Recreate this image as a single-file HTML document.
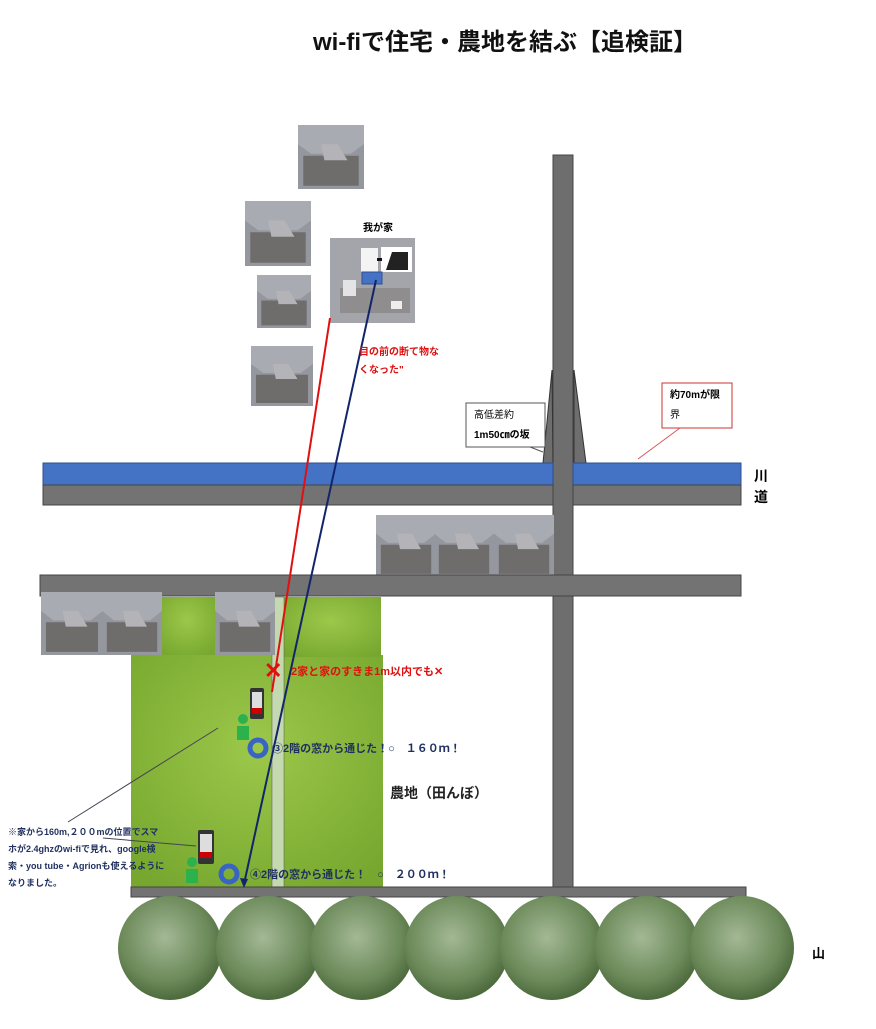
<!DOCTYPE html>
<html><head><meta charset="utf-8"><style>
body{margin:0;background:#fff}
svg text{font-family:"Liberation Sans","Noto Sans CJK JP",sans-serif}
</style></head><body>
<svg width="876" height="1024" viewBox="0 0 876 1024" xmlns="http://www.w3.org/2000/svg">
<defs>
<g id="h">
<rect x="0" y="0" width="100" height="100" fill="#95979e"/>
<polygon points="0,0 100,0 100,30 80,45 20,45 0,30" fill="#a9abb2"/>
<polygon points="8,48 92,48 92,95 8,95" fill="#6f6c6c"/>
<polygon points="35,30 60,30 75,55 40,55" fill="#b4b4b8"/>
</g>
<radialGradient id="g" cx="50%" cy="40%" r="70%"><stop offset="0" stop-color="#9cc84a"/><stop offset="1" stop-color="#77a72f"/></radialGradient>
<radialGradient id="b" cx="45%" cy="40%" r="60%"><stop offset="0" stop-color="#a3b895"/><stop offset="0.7" stop-color="#6c8a5a"/><stop offset="1" stop-color="#4c6a3c"/></radialGradient>
</defs>
<text x="313" y="50" font-size="24" font-weight="bold" fill="#111">wi-fiで住宅・農地を結ぶ【追検証】</text>

<use href="#h" transform="translate(298,125) scale(0.66,0.64)"/>
<use href="#h" transform="translate(245,201) scale(0.66,0.65)"/>
<use href="#h" transform="translate(257,275) scale(0.54,0.53)"/>
<use href="#h" transform="translate(251,346) scale(0.62,0.6)"/>
<rect x="330" y="238" width="85" height="85" fill="#a3a5ab"/>
<rect x="340" y="288" width="70" height="25" fill="#8f8d8e"/>
<rect x="343" y="280" width="13" height="16" fill="#e4e4e6"/>
<rect x="391" y="301" width="11" height="8" fill="#eee"/>
<rect x="361" y="248" width="17" height="24" fill="#f4f4f4"/>
<rect x="381" y="247" width="31" height="25" fill="#fff"/>
<path d="M386 270 L392 252 L408 252 L408 270Z" fill="#222"/>
<rect x="377" y="258" width="5" height="3" fill="#111"/>
<rect x="362" y="272" width="20" height="12" fill="#4472c4" stroke="#2f4f8f"/>
<text x="363" y="231" font-size="10" font-weight="bold">我が家</text>

<rect x="131" y="655" width="252" height="235" fill="url(#g)"/>
<rect x="158" y="597" width="58" height="58" fill="url(#g)"/>
<rect x="280" y="597" width="101" height="60" fill="url(#g)"/>
<rect x="272" y="597" width="12" height="293" fill="#c4d9b0" stroke="#555" stroke-width="0.5"/>

<rect x="553" y="155" width="20" height="735" fill="#6e6e6e" stroke="#444"/>
<polygon points="552,370 543,463 553,463" fill="#6e6e6e" stroke="#333"/>
<polygon points="574,370 586,463 574,463" fill="#6e6e6e" stroke="#333"/>
<rect x="43" y="463" width="510" height="22" fill="#4472c4" stroke="#2f4f8f"/>
<rect x="573" y="463" width="168" height="22" fill="#4472c4" stroke="#2f4f8f"/>
<rect x="43" y="485" width="510" height="20" fill="#737373" stroke="#444"/>
<rect x="573" y="485" width="168" height="20" fill="#737373" stroke="#444"/>
<text x="754" y="481" font-size="14" font-weight="bold">川</text>
<text x="754" y="502" font-size="14" font-weight="bold">道</text>
<use href="#h" transform="translate(376,515) scale(0.6,0.62)"/>
<use href="#h" transform="translate(434,515) scale(0.6,0.62)"/>
<use href="#h" transform="translate(494,515) scale(0.6,0.62)"/>
<rect x="40" y="575" width="701" height="21" fill="#737373" stroke="#444"/>
<use href="#h" transform="translate(41,592) scale(0.62,0.63)"/>
<use href="#h" transform="translate(102,592) scale(0.6,0.63)"/>
<use href="#h" transform="translate(215,592) scale(0.6,0.63)"/>
<rect x="131" y="887" width="615" height="10" fill="#737373" stroke="#444"/>

<rect x="466" y="403" width="79" height="44" fill="#fff" stroke="#555"/>
<line x1="530" y1="447" x2="543" y2="452" stroke="#555"/>
<text x="474" y="418" font-size="10">高低差約</text>
<text x="474" y="438" font-size="10" font-weight="bold">1m50㎝の坂</text>
<rect x="662" y="383" width="70" height="45" fill="#fff" stroke="#c33"/>
<line x1="680" y1="428" x2="638" y2="459" stroke="#d55"/>
<text x="670" y="398" font-size="10" font-weight="bold">約70mが限</text>
<text x="670" y="418" font-size="10">界</text>

<line x1="330" y1="318" x2="272" y2="692" stroke="#e01010" stroke-width="2"/>
<line x1="376" y1="280" x2="244" y2="884" stroke="#12256a" stroke-width="2"/>
<polygon points="244,888 240,878 248,879" fill="#12256a"/>
<text x="359" y="355" font-size="10" font-weight="bold" fill="#e01010">目の前の断て物な</text>
<text x="359" y="373" font-size="10" font-weight="bold" fill="#e01010">くなった"</text>
<text x="264" y="678" font-size="22" font-weight="bold" fill="#e01010">✕</text>
<text x="291" y="675" font-size="11" font-weight="bold" fill="#e01010">2家と家のすきま1m以内でも✕</text>

<rect x="250" y="688" width="14" height="31" rx="2" fill="#333"/><rect x="252" y="692" width="10" height="22" fill="#ddd"/><rect x="252" y="708" width="10" height="6" fill="#c00"/>
<circle cx="243" cy="719" r="5" fill="#2bb24c"/><path d="M237 726 h12 v14 h-12Z" fill="#2bb24c"/>
<circle cx="258" cy="748" r="8" fill="none" stroke="#3a64c4" stroke-width="5"/>
<text x="272" y="752" font-size="11" font-weight="bold" fill="#1f2f5f">③2階の窓から通じた！○　１６０ｍ！</text>
<text x="390" y="798" font-size="14" font-weight="bold" fill="#222">農地（田んぼ）</text>
<rect x="198" y="830" width="16" height="34" rx="2" fill="#333"/><rect x="200" y="834" width="12" height="24" fill="#ddd"/><rect x="200" y="852" width="12" height="6" fill="#c00"/>
<circle cx="192" cy="862" r="5" fill="#2bb24c"/><path d="M186 869 h12 v14 h-12Z" fill="#2bb24c"/>
<circle cx="229" cy="874" r="8" fill="none" stroke="#3a64c4" stroke-width="5"/>
<text x="250" y="878" font-size="11" font-weight="bold" fill="#1f2f5f">④2階の窓から通じた！　○　２００ｍ！</text>
<line x1="68" y1="822" x2="218" y2="728" stroke="#445"/>
<line x1="103" y1="838" x2="196" y2="846" stroke="#445"/>
<text x="8" y="835" font-size="9" font-weight="bold" fill="#1f2f5f">※家から160m,２００mの位置でスマ</text>
<text x="8" y="852" font-size="9" font-weight="bold" fill="#1f2f5f">ホが2.4ghzのwi-fiで見れ、google検</text>
<text x="8" y="869" font-size="9" font-weight="bold" fill="#1f2f5f">索・you tube・Agrionも使えるように</text>
<text x="8" y="886" font-size="9" font-weight="bold" fill="#1f2f5f">なりました。</text>

<g fill="url(#b)">
<circle cx="170" cy="948" r="52"/><circle cx="268" cy="948" r="52"/><circle cx="362" cy="948" r="52"/>
<circle cx="457" cy="948" r="52"/><circle cx="552" cy="948" r="52"/><circle cx="647" cy="948" r="52"/><circle cx="742" cy="948" r="52"/>
</g>
<text x="812" y="958" font-size="13" font-weight="bold">山</text>
</svg>
</body></html>
